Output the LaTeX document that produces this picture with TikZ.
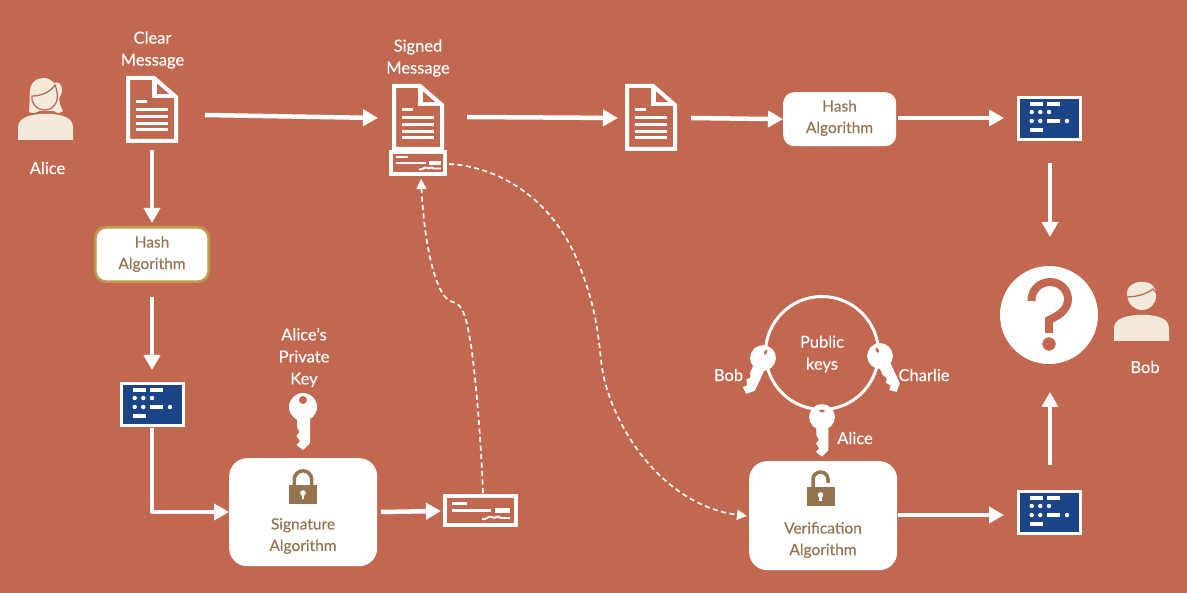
\documentclass[tikz,border=0pt]{standalone}
\usepackage{fontspec}
\setmainfont{Lato}[FakeBold=0.12]
\usetikzlibrary{arrows.meta}
\definecolor{bg}{HTML}{C36850}
\definecolor{cream}{HTML}{F3EADB}
\definecolor{navy}{HTML}{1B4586}
\definecolor{brownish}{HTML}{96734F}
\definecolor{gold}{HTML}{BE9A4D}
\tikzset{
  conn/.style={draw=white,line width=4.5pt,-{Triangle[length=15pt,width=16pt]}},
  dashconn/.style={draw=white,line width=1.7pt,dash pattern=on 5pt off 3.5pt,-{Triangle[length=10pt,width=10pt]}},
  lbl/.style={text=white,font=\fontsize{16.5}{22}\selectfont,align=center,inner sep=0pt},
  boxlbl/.style={text=brownish,font=\fontsize{15.5}{21.5}\selectfont,align=center,inner sep=0pt},
  anchorbox/.style={inner sep=0pt,outer sep=0pt},
  algbox/.style={fill=white,rounded corners=18pt,anchor=north west,inner sep=0pt},
  pics/docicon/.style={code={
    \draw[white,line width=4pt,miter limit=10] (2,2)--(28,2)--(50,21)--(50,65)--(2,65)--cycle;
    \draw[white,line width=4.5pt] (28.5,2)--(28.5,20)--(50,20);
    \fill[white] (10,24) rectangle (21,27);
    \foreach \yy in {32,39,46,52} \fill[white] (10,\yy) rectangle (42,\yy+3);
  }},
  pics/chequeicon/.style={code={
    \draw[white,line width=4pt] (2,2) rectangle (73,31);
    \fill[white] (9,8) rectangle (24,11);
    \fill[white] (9,15) rectangle (48,18);
    \fill[white] (52,14) rectangle (67,19);
    \draw[white,line width=1.9pt] (39,25)..controls (43,27) and (45,21) ..(49,23) .. controls (52,26) and (54,20) .. (58,24) -- (67,24);
  }},
  pics/digest/.style={code={
    \fill[white] (0,0) rectangle (65,45);
    \fill[navy] (3,3) rectangle (62,42);
    \foreach \a/\b in {13/6,30/6,13/32,30/23} \fill[white] (\a,\b) rectangle (\a+12.5,\b+4);
    \foreach \a/\b in {14.7/16,23.3/16,32/16,14.7/25,23.3/25,50/25} \fill[white] (\a,\b) circle (2.2);
  }},
  pics/keyicon/.style={code={
    \fill[white] (0,0) circle (14);
    \fill[white] (7,5)--(7,36)--(0,43)--(-6.5,38)--(-3,34)--(-6.5,29)--(-3.5,25)--(-6,20)--(-6,5)--cycle;
    #1
  }},
  pics/lockicon/.style={code={
    \fill[brownish] (-14,0) rectangle (14,19.5);
    \fill[white] (0,8) circle (2.8);
    \fill[white] (-1.2,8) rectangle (1.2,14);
    #1
  }},
}
\begin{document}
\begin{tikzpicture}[x=1pt,y=-1pt]
\useasboundingbox (0,0) rectangle (1187,593);
\fill[bg] (0,0) rectangle (1187,593);

% boxes
\node[algbox,minimum width=148pt,minimum height=108pt] (sigbox) at (229,458) {};
\node[algbox,minimum width=148pt,minimum height=109pt] (verbox) at (749,461) {};
\node[algbox,rounded corners=11pt,draw=gold,line width=2.6pt,minimum width=113.4pt,minimum height=54.4pt] (hashA) at (94,226) {};
\node[algbox,rounded corners=11pt,minimum width=113pt,minimum height=54pt] (hashB) at (783,92) {};

\node[boxlbl] (hashAtxt) at (152,254) {Hash\\Algorithm};
\node[boxlbl] (hashBtxt) at (839.5,118) {Hash\\Algorithm};
\node[boxlbl] (sigtxt) at (303,536) {Signature\\Algorithm};
\node[boxlbl] (vertxt) at (823,540) {Verification\\Algorithm};

% labels
\node[lbl] (clear) at (152.5,50) {Clear\\Message};
\node[lbl] (signed) at (418,58) {Signed\\Message};
\node[lbl] (alicelbl) at (47.5,168) {Alice};
\node[lbl] (boblbl) at (1145,367) {Bob};
\node[lbl] (privkey) at (304,357.5) {Alice’s\\Private\\Key};
\node[lbl] (pub) at (822,354) {Public\\keys};
\node[lbl] (keybob) at (728.5,375) {Bob};
\node[lbl] (keycharlie) at (924,375) {Charlie};
\node[lbl] (keyalice) at (855,438) {Alice};

% documents
\pic at (126,76) {docicon};
\pic at (392,84) {docicon};
\pic at (625,84) {docicon};
\pic[scale=0.773] at (389,150) {chequeicon};
\pic at (443,494) {chequeicon};

% digests
\pic at (120,382) {digest};
\pic at (1017,96) {digest};
\pic at (1017,490) {digest};

% Alice figure
\fill[cream] (18,140)--(18,128) .. controls (18,119) and (26,116) .. (36,114.5) .. controls (42,113.5) and (50,113.5) .. (56,114.5) .. controls (66,116) and (73,119) .. (73,128) -- (73,140) -- cycle;
\fill[cream] (29,112) .. controls (30,102) and (29,92) .. (31,86) .. controls (33,80) and (39,78) .. (44,78) .. controls (48,78) and (51,80) .. (54,83) .. controls (58,81) and (62,84) .. (62,90) .. controls (62,94) and (60,97) .. (59,99) .. controls (60,104) and (61,108) .. (63,111) .. controls (60,114) and (56,113) .. (54,111) -- (39,111) .. controls (36,113) and (32,114) .. (29,112) -- cycle;
\draw[bg,line width=1.3pt] (32,96) .. controls (42,96) and (50,92) .. (55,85) .. controls (57,90) and (58,96) .. (57,100) .. controls (55,107) and (50,110) .. (45,110) .. controls (37,110) and (31,104) .. (32,96) -- cycle;

% Bob figure
\fill[cream] (1114,341)--(1114,329) .. controls (1114,320) and (1122,317) .. (1132,315.5) .. controls (1138,314.5) and (1146,314.5) .. (1152,315.5) .. controls (1162,317) and (1169,320) .. (1169,329) -- (1169,341) -- cycle;
\fill[cream] (1127,295) .. controls (1126,286) and (1135,281) .. (1143,282) .. controls (1152,282) and (1157,288) .. (1156,296) .. controls (1156,304) and (1150,310) .. (1142,310) .. controls (1134,310) and (1128,304) .. (1127,295) -- cycle;
\draw[bg,line width=1.3pt] (1125,297) .. controls (1135,297) and (1145,295) .. (1153,289) -- (1158,295);

% question
\fill[white] (1049,315) circle (49);
\draw[bg,line width=8pt] (1031.5,301) .. controls (1031,290) and (1040,282) .. (1050,282) .. controls (1061,282) and (1068,291) .. (1068,299) .. controls (1068,310) and (1058,316) .. (1049,320) -- (1049,333);
\fill[bg] (1049,344) circle (6.7);

% ring
\node[anchorbox,draw=white,line width=3pt,circle,minimum size=113pt] (ring) at (822,353) {};
\pic[rotate=-25,scale=0.92] at (763,358) {keyicon={\fill[bg] (0,-7) ellipse (1.5 and 3);}};
\pic[rotate=25,scale=0.92] at (880,356) {keyicon={\fill[bg] (0,-7) ellipse (1.5 and 3);}};
\pic[scale=0.92] at (822,417) {keyicon={\fill[bg] (0,-6.5) ellipse (3 and 1.5);}};
\pic at (303,407) {keyicon={\fill[bg] (0,-7) circle (4);}};

% locks
\pic at (303,485) {lockicon={\draw[brownish,line width=3.5pt] (-8.7,0)--(-8.7,-5.5) arc[start angle=180,end angle=0,x radius=8.7,y radius=-8.7] -- (8.7,0);}};
\pic at (820.5,487) {lockicon={\draw[brownish,line width=3.5pt] (-7.5,0)--(-7.5,-7.5) arc[start angle=180,end angle=0,x radius=7.5,y radius=-7.5] -- (7.5,-4);}};

% connector endpoints
\coordinate (a1) at (205,115); \coordinate (a2) at (378,118);
\coordinate (b1) at (467,117); \coordinate (b2) at (618,118);
\coordinate (c1) at (691,118);
\coordinate (d1) at (898,118); \coordinate (d2) at (1004,118);
\coordinate (e1) at (152,150); \coordinate (e2) at (152,223);
\coordinate (g1) at (152,297); \coordinate (g2) at (152,370);
\coordinate (h1) at (152,428); \coordinate (h2) at (152,512);
\coordinate (i1) at (381,512); \coordinate (i2) at (441,511);
\coordinate (j1) at (898,515); \coordinate (j2) at (1004,515);
\coordinate (k1) at (1050,163); \coordinate (k2) at (1050,237);
\coordinate (l1) at (1050,465); \coordinate (l2) at (1050,392);

\draw[conn] (a1) -- (a2);
\draw[conn] (b1) -- (b2);
\draw[conn] (c1) -- (hashB.west);
\draw[conn] (d1) -- (d2);
\draw[conn] (e1) -- (e2);
\draw[conn] (g1) -- (g2);
\draw[conn,line join=round] (h1) -- (h2) -- (sigbox.west |- h2);
\draw[conn] (i1) -- (i2);
\draw[conn] (j1) -- (j2);
\draw[conn] (k1) -- (k2);
\draw[conn] (l1) -- (l2);

\coordinate (m1) at (483,493); \coordinate (m2) at (421,179);
\coordinate (n1) at (449,164); \coordinate (n2) at (747,516);
\draw[dashconn] (m1) .. controls (481,440) and (476,380) .. (471,345) .. controls (467,322) and (464,304) .. (453,302) .. controls (438,300) and (425,255) .. (m2);
\draw[dashconn] (n1) .. controls (490,166) and (545,190) .. (575,255) .. controls (592,295) and (597,320) .. (601,360) .. controls (607,420) and (660,505) .. (n2);
\end{tikzpicture}
\end{document}
